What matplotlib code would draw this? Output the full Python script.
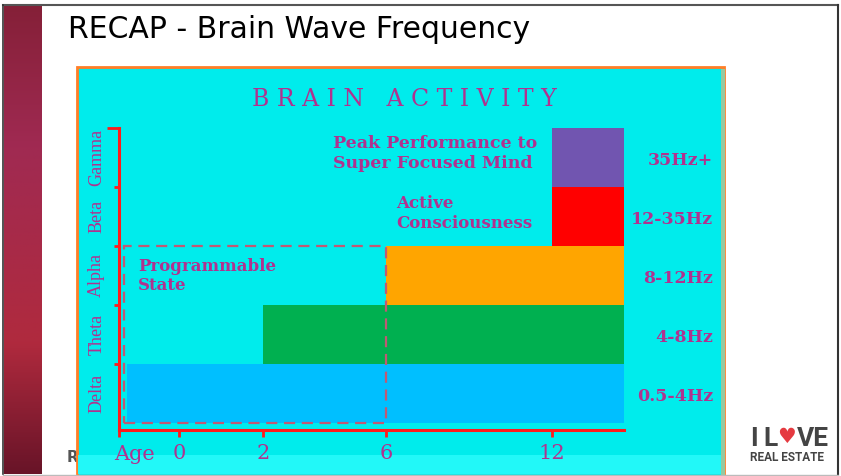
import matplotlib
matplotlib.use("Agg")
import matplotlib.pyplot as plt
import matplotlib.transforms as mtransforms
import numpy as np
from matplotlib.colors import LinearSegmentedColormap
from matplotlib.patches import Rectangle
from matplotlib.ticker import FixedLocator, NullLocator

# --- chart data ---
bands = ["Delta", "Theta", "Alpha", "Beta", "Gamma"]
freqs = ["0.5-4Hz", "4-8Hz", "8-12Hz", "12-35Hz", "35Hz+"]
start_age = [-0.87, 2, 6, 12, 12]
end_age = 14.6
band_colors = ["#00BFFF", "#00B050", "#FFA500", "#FF0000", "#7155B0"]
age_ticks = [-1, 0, 2, 6, 12]
age_labels = ["", "0", "2", "6", "12"]
programmable_until = 6

# hand drawn axis: ages are not evenly spaced
age_nodes = [-1, 0, 2, 6, 12, 14.6]
pos_nodes = [0, 60, 144, 267, 433, 505]

MAGENTA = "#B0328F"
RED = "#FF1A1A"


def piecewise(v, xs, ys):
    v = np.asarray(v, dtype=float)
    out = np.interp(v, xs, ys)
    lo_slope = (ys[1] - ys[0]) / (xs[1] - xs[0])
    hi_slope = (ys[-1] - ys[-2]) / (xs[-1] - xs[-2])
    out = np.where(v < xs[0], ys[0] + (v - xs[0]) * lo_slope, out)
    out = np.where(v > xs[-1], ys[-1] + (v - xs[-1]) * hi_slope, out)
    return out


def fwd(v):
    return piecewise(v, age_nodes, pos_nodes)


def inv(v):
    return piecewise(v, pos_nodes, age_nodes)


W, H = 841, 476
fig = plt.figure(figsize=(W / 100, H / 100), dpi=100)
fig.patch.set_facecolor("white")

# slide background, pixel coords
bg = fig.add_axes([0, 0, 1, 1], zorder=0)
bg.set_xlim(0, W)
bg.set_ylim(H, 0)
bg.axis("off")

cmap = LinearSegmentedColormap.from_list(
    "bar", [(0, "#852038"), (0.3, "#A02A52"), (0.72, "#B02A3E"), (1, "#681428")])
grad = np.linspace(0, 1, 256).reshape(-1, 1)
bg.imshow(grad, cmap=cmap, extent=(4, 42, 474, 6), aspect="auto", zorder=1)

bg.plot([3, 838], [5, 5], color="#555555", lw=1.5, zorder=3)
bg.plot([3, 3], [5, 474], color="#333333", lw=1.2, zorder=3)
bg.plot([838, 838], [5, 474], color="#333333", lw=1.5, zorder=3)
bg.plot([3, 838], [474.5, 474.5], color="#bbbbbb", lw=1, zorder=3)

bg.text(68, 38.5, "RECAP - Brain Wave Frequency", fontsize=21.5, family="DejaVu Sans",
        color="black", va="baseline", ha="left", zorder=3)

bg.text(67, 458, "R", fontsize=11, family="DejaVu Sans", weight="bold",
        color="#555555", va="center", ha="left", zorder=1)

# chart picture
bg.add_patch(Rectangle((77, 67), 647, 420, facecolor="#00ECEC",
                       edgecolor="#FF7F27", lw=2, zorder=2))
bg.add_patch(Rectangle((78, 455), 643, 19, facecolor="#22F8F8", lw=0, zorder=2))
bg.add_patch(Rectangle((721, 69), 4, 406, facecolor="#96C8A0", lw=0, zorder=2))

bg.text(404, 100, "B R A I N   A C T I V I T Y", fontsize=17, family="DejaVu Serif",
        color=MAGENTA, ha="center", va="center", zorder=3)

# logo
logo_kw = dict(fontsize=19, family="Roboto", weight="bold", color="#444444",
               va="baseline", zorder=3)
bg.text(750, 446, "I", ha="left", **logo_kw)
bg.text(763, 446, "L", ha="left", **logo_kw)
bg.text(787, 437, "\u2665", fontsize=15, family="DejaVu Sans",
        color="#E53A40", ha="center", va="center", zorder=3)
bg.text(797, 446, "VE", ha="left", **logo_kw)
bg.text(787, 461, "REAL ESTATE", fontsize=8.5, family="Roboto", weight="bold",
        color="#444444", ha="center", va="baseline", zorder=3)

# chart axes
ax = fig.add_axes([119 / W, (H - 430) / H, 505 / W, 302 / H], zorder=2)
ax.set_facecolor("none")
ax.set_xscale("function", functions=(fwd, inv))
ax.set_xlim(age_nodes[0], end_age)
ax.set_ylim(-0.12, len(bands))

for i, band in enumerate(bands):
    ax.barh(i, end_age - start_age[i], left=start_age[i], height=1,
            align="edge", color=band_colors[i], lw=0, zorder=2)

ax.add_patch(Rectangle((-0.92, 0), programmable_until + 0.92, 3, fill=False,
                       edgecolor="#C05A74", lw=1.6, linestyle=(0, (5, 3)), zorder=3))

for s in ["top", "right"]:
    ax.spines[s].set_visible(False)
for s in ["left", "bottom"]:
    ax.spines[s].set_color(RED)
    ax.spines[s].set_linewidth(2.2)
    ax.spines[s].set_zorder(4)

ax.xaxis.set_major_locator(FixedLocator(age_ticks))
ax.xaxis.set_minor_locator(NullLocator())
ax.set_xticklabels(age_labels)
ax.tick_params(axis="x", direction="out", length=5, width=2, color=RED,
               labelcolor=MAGENTA, labelsize=15, pad=5)
for lab in ax.get_xticklabels():
    lab.set_family("DejaVu Serif")

ax.yaxis.set_major_locator(FixedLocator([len(bands)]))
ax.yaxis.set_minor_locator(FixedLocator(list(range(1, len(bands)))))
ax.set_yticklabels([])
ax.tick_params(axis="y", which="major", direction="out", length=9, width=2, color=RED)
ax.tick_params(axis="y", which="minor", direction="out", length=3.5, width=2, color=RED)

left_tr = mtransforms.blended_transform_factory(ax.transAxes, ax.transData)
bottom_tr = mtransforms.blended_transform_factory(ax.transData, ax.transAxes)

for i, band in enumerate(bands):
    ax.text(-0.044, i + 0.5, band, transform=left_tr, rotation=90, fontsize=13,
            family="Liberation Serif", color=MAGENTA, ha="center", va="center")
    ax.text(1.176, i + 0.45, freqs[i], transform=left_tr, fontsize=12.5,
            family="DejaVu Serif", weight="bold", color=MAGENTA,
            ha="right", va="center", clip_on=False)

ax.text(-0.74, -0.05, "Age", transform=bottom_tr, fontsize=15,
        family="DejaVu Serif", color=MAGENTA, ha="center", va="top")

txt_kw = dict(family="DejaVu Serif", weight="bold", color=MAGENTA, ha="left",
              va="top", linespacing=1.2, zorder=5)
ax.text(-0.68, 2.8, "Programmable\nState", fontsize=12, **txt_kw)
ax.text(6.36, 3.86, "Active\nConsciousness", fontsize=12, **txt_kw)
ax.text(4.28, 4.88, "Peak Performance to\nSuper Focused Mind", fontsize=12.5, **txt_kw)

fig.savefig("out.png", dpi=100, facecolor="white")
